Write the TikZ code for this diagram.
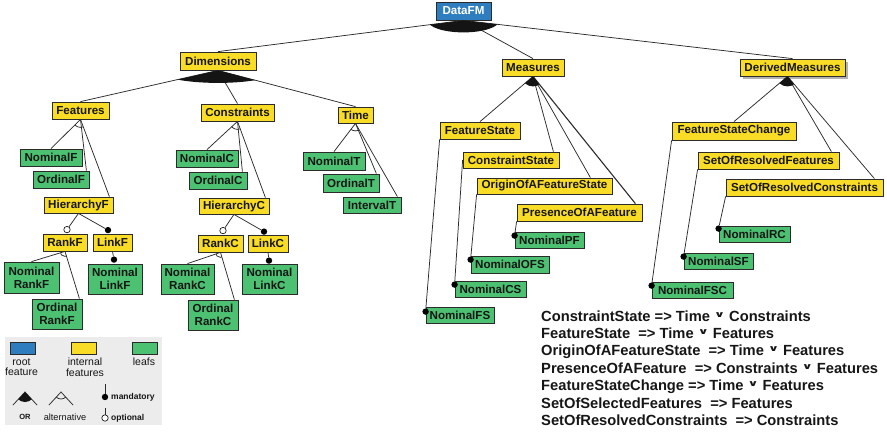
\documentclass[tikz,border=0pt]{standalone}
\usepackage{fontspec}
\setmainfont{Liberation Sans}
\newfontfamily\djv{DejaVu Sans}
\usetikzlibrary{calc,shadows}

\definecolor{rootblue}{HTML}{2E7DBE}
\definecolor{featyellow}{HTML}{F9DC26}
\definecolor{leafgreen}{HTML}{4CC172}
\definecolor{edgegray}{HTML}{2B2B2B}
\definecolor{markblack}{HTML}{141414}
\definecolor{legendbg}{HTML}{ECECEC}
\definecolor{labelink}{HTML}{161616}

% logical "or" sign used in the cross-tree rules
\newcommand{\disj}{\raisebox{4pt}{\scalebox{1}[0.62]{\djv\fontsize{13.5}{13.5}\selectfont\char"2228}}}

% filled sector of an or-group: apex, first child end, last child end, radii
\newcommand{\orfan}[5]{%
  \begin{scope}
    \clip (#1) -- ($(#1)!5!(#2)$) -- ($(#1)!5!(#3)$) -- cycle;
    \fill[markblack] (#1) ellipse [x radius=#4pt, y radius=#5pt];
  \end{scope}}
% open arc of an alternative group: apex, first child end, last child end, radius
\newcommand{\altfan}[4]{%
  \begin{scope}
    \clip (#1) -- ($(#1)!5!(#2)$) -- ($(#1)!5!(#3)$) -- cycle;
    \draw[link] (#1) circle [radius=#4pt];
  \end{scope}}

\tikzset{
  sz/.style 2 args={minimum width=#1pt, minimum height=#2pt},
  fmbox/.style={draw=edgegray, line width=0.8pt, inner sep=0pt, align=center,
    font=\bfseries\fontsize{11.6}{13}\selectfont, text=labelink,
    drop shadow={fill=black, opacity=0.3, shadow xshift=0.9pt, shadow yshift=-0.9pt}},
  rootbox/.style={fmbox, fill=rootblue, text=white},
  midbox/.style={fmbox, fill=featyellow},
  leafbox/.style={fmbox, fill=leafgreen},
  link/.style={draw=edgegray, line width=0.75pt},
  mand/.style={circle, fill=black, inner sep=0pt, minimum size=6.4pt},
  opt/.style={circle, draw=black, fill=white, line width=0.6pt, inner sep=0pt, minimum size=6.4pt},
  swatch/.style={draw=edgegray, line width=0.7pt, inner sep=0pt, minimum width=25pt, minimum height=12pt},
  keytext/.style={align=center, inner sep=0pt, font=\fontsize{10.5}{10.5}\selectfont, text=labelink},
  keybold/.style={inner sep=0pt, font=\bfseries\fontsize{8.5}{9}\selectfont, text=labelink},
  rule/.style={inner sep=0pt, anchor=base west, font=\bfseries\fontsize{14.7}{17}\selectfont, text=labelink},
}

\begin{document}
\begin{tikzpicture}[x=1pt, y=-1pt]
\useasboundingbox (0,0) rectangle (887,434);

% ---------- features ----------
\node[rootbox, sz={55}{18}] (dfm) at (463.5,11) {DataFM};
\node[midbox, sz={76}{18}] (dim) at (218,61) {Dimensions};
\node[midbox, sz={62}{17}] (meas) at (533,67.5) {Measures};
\node[midbox, sz={105}{17}, drop shadow={fill=black, opacity=0.3, shadow xshift=3pt, shadow yshift=-3pt}] (dm) at (792.5,67.5) {DerivedMeasures};

\node[midbox, sz={57}{17}] (feat) at (80.5,110.5) {Features};
\node[midbox, sz={73}{17}] (con) at (237.5,112.5) {Constraints};
\node[midbox, sz={35}{16}] (time) at (355.5,115) {Time};

\node[leafbox, sz={62}{17}] (nomF) at (51,157.5) {NominalF};
\node[leafbox, sz={56}{17}] (ordF) at (61,179.5) {OrdinalF};
\node[midbox, sz={69}{16}] (hF) at (78.5,205) {HierarchyF};
\node[midbox, sz={44}{17}] (rkF) at (65,242.5) {RankF};
\node[midbox, sz={39}{17}] (lkF) at (112.5,242.5) {LinkF};
\node[leafbox, sz={55}{31}] (nrF) at (31.5,277.5) {Nominal\\RankF};
\node[leafbox, sz={50}{30}] (orF) at (57,314) {Ordinal\\RankF};
\node[leafbox, sz={54}{30}] (nlF) at (115,279) {Nominal\\LinkF};

\node[leafbox, sz={62}{17}] (nomC) at (207,158.5) {NominalC};
\node[leafbox, sz={58}{17}] (ordC) at (218,180.5) {OrdinalC};
\node[midbox, sz={70}{16}] (hC) at (234,206) {HierarchyC};
\node[midbox, sz={45}{17}] (rkC) at (220.5,243.5) {RankC};
\node[midbox, sz={40}{17}] (lkC) at (268,243.5) {LinkC};
\node[leafbox, sz={53}{30}] (nrC) at (187.5,279) {Nominal\\RankC};
\node[leafbox, sz={50}{30}] (orC) at (213,315) {Ordinal\\RankC};
\node[leafbox, sz={55}{30}] (nlC) at (269.5,279) {Nominal\\LinkC};

\node[leafbox, sz={62}{18}] (nomT) at (334,161) {NominalT};
\node[leafbox, sz={56}{18}] (ordT) at (351,183) {OrdinalT};
\node[leafbox, sz={58}{16}] (intT) at (372,205) {IntervalT};

\node[midbox, sz={80}{17}] (fs) at (480,130.5) {FeatureState};
\node[midbox, sz={96}{16}] (cs) at (511,160) {ConstraintState};
\node[midbox, sz={135}{16}] (ofs) at (544.5,186) {OriginOfAFeatureState};
\node[midbox, sz={125}{17}] (pf) at (579.5,212.5) {PresenceOfAFeature};
\node[leafbox, sz={69}{16}] (nPF) at (549.5,240) {NominalPF};
\node[leafbox, sz={78}{17}] (nOFS) at (510,264.5) {NominalOFS};
\node[leafbox, sz={71}{16}] (nCS) at (490.5,289) {NominalCS};
\node[leafbox, sz={68}{16}] (nFS) at (460,315) {NominalFS};

\node[midbox, sz={124}{18}] (fsc) at (734,131) {FeatureStateChange};
\node[midbox, sz={141}{17}] (srf) at (768.5,160.5) {SetOfResolvedFeatures};
\node[midbox, sz={157}{17}] (src) at (804.5,187.5) {SetOfResolvedConstraints};
\node[leafbox, sz={71}{16}] (nRC) at (754.5,234) {NominalRC};
\node[leafbox, sz={69}{16}] (nSF) at (718.5,261) {NominalSF};
\node[leafbox, sz={81}{16}] (nFSC) at (692.5,290) {NominalFSC};

% ---------- attachment points ----------
\coordinate (ordF-in) at ($(ordF.north east)+(-3,0)$);
\coordinate (hF-in) at ($(hF.north east)+(-4,0)$);
\coordinate (ordC-in) at ($(ordC.north east)+(-5,0)$);
\coordinate (hC-in) at ($(hC.north east)+(-4,0)$);
\coordinate (ordT-in) at ($(ordT.north east)+(-3,0)$);
\coordinate (intT-in) at ($(intT.north east)+(-4,0)$);
\coordinate (orF-in) at ($(orF.north east)+(-3,0)$);
\coordinate (orC-in) at ($(orC.north east)+(-4,0)$);
\coordinate (cs-in) at ($(cs.north east)+(-6,0)$);
\coordinate (ofs-in) at ($(ofs.north east)+(-22,0)$);
\coordinate (pf-in) at ($(pf.north east)+(-7,0)$);
\coordinate (srf-in) at ($(srf.north east)+(-8,0)$);
\coordinate (src-in) at ($(src.north east)+(-9,0)$);
\coordinate (dm-b) at ($(dm.south)+(-5,0)$);

% ---------- optional / mandatory markers ----------
\node[opt] (oRF) at ($(rkF.north)+(2,-4)$) {};
\node[mand] (mLF) at ($(lkF.north)+(-4.5,-3.5)$) {};
\node[mand] (mNLF) at ($(nlF.north)+(-1,-4)$) {};
\node[opt] (oRC) at ($(rkC.north)+(2.5,-4)$) {};
\node[mand] (mLC) at ($(lkC.north)+(-4,-3)$) {};
\node[mand] (mNLC) at ($(nlC.north)+(-0.5,-3)$) {};

\node[mand] (mPF) at ($(nPF.north west)+(0,4)$) {};
\node[mand] (mOFS) at ($(nOFS.north west)+(0,4)$) {};
\node[mand] (mCS) at ($(nCS.north west)+(0,4)$) {};
\node[mand] (mFS) at ($(nFS.north west)+(0,5)$) {};
\node[mand] (mRC) at ($(nRC.north west)+(0,3)$) {};
\node[mand] (mSF) at ($(nSF.north west)+(0,4)$) {};
\node[mand] (mFSC) at ($(nFSC.north west)+(0,4)$) {};

% ---------- connectors ----------
\draw[link] (dfm.south) -- (dim.north);
\draw[link] (dfm.south) -- (meas.north);
\draw[link] (dfm.south) -- (dm.north);
\orfan{dfm.south}{dim.north}{dm.north}{36}{12}

\draw[link] (dim.south) -- (feat.north);
\draw[link] (dim.south) -- (con.north);
\draw[link] (dim.south) -- (time.north);
\orfan{dim.south}{feat.north}{time.north}{60}{12.5}

\draw[link] (feat.south) -- (nomF.north);
\draw[link] (feat.south) -- (ordF-in);
\draw[link] (feat.south) -- (hF-in);
\altfan{feat.south}{nomF.north}{hF-in}{8}

\draw[link] (con.south) -- (nomC.north);
\draw[link] (con.south) -- (ordC-in);
\draw[link] (con.south) -- (hC-in);
\altfan{con.south}{nomC.north}{hC-in}{8}

\draw[link] (time.south) -- (nomT.north);
\draw[link] (time.south) -- (ordT-in);
\draw[link] (time.south) -- (intT-in);
\altfan{time.south}{nomT.north}{intT-in}{7.5}

\draw[link] (hF.south) -- (oRF);
\draw[link] (hF.south) -- (mLF);
\draw[link] (lkF.south) -- (mNLF);
\draw[link] (rkF.south) -- (nrF.north);
\draw[link] (rkF.south) -- (orF-in);
\altfan{rkF.south}{nrF.north}{orF-in}{5}

\draw[link] (hC.south) -- (oRC);
\draw[link] (hC.south) -- (mLC);
\draw[link] (lkC.south) -- (mNLC);
\draw[link] (rkC.south) -- (nrC.north);
\draw[link] (rkC.south) -- (orC-in);
\altfan{rkC.south}{nrC.north}{orC-in}{5}

\draw[link] (meas.south) -- (fs.north);
\draw[link] (meas.south) -- (cs-in);
\draw[link] (meas.south) -- (ofs-in);
\draw[link, line width=1.1pt] (meas.south) -- (pf-in);
\orfan{meas.south}{fs.north}{pf-in}{11}{10}

\draw[link] (fs.south west) -- (mFS);
\draw[link] (cs.west) -- (mCS);
\draw[link] (ofs.south west) -- (mOFS);
\draw[link] (pf.south west) -- (mPF);

\draw[link] (dm-b) -- (fsc.north);
\draw[link] (dm-b) -- (srf-in);
\draw[link] (dm-b) -- (src-in);
\orfan{dm-b}{fsc.north}{src-in}{11}{10}

\draw[link] (fsc.south west) -- (mFSC);
\draw[link] (srf.south west) -- (mSF);
\draw[link] (src.south west) -- (mRC);

% ---------- legend ----------
\fill[legendbg] (5,337) rectangle (162,425);
\node[swatch, fill=rootblue] (keyRoot) at (22.5,348) {};
\node[swatch, fill=featyellow] (keyMid) at (84,348) {};
\node[swatch, fill=leafgreen] (keyLeaf) at (144.5,348) {};
\node[keytext] (keyRootT) at (21.5,367) {root\\feature};
\node[keytext] (keyMidT) at (85,367) {internal\\features};
\node[keytext] (keyLeafT) at (144,362) {leafs};

\coordinate (kOR) at (25,392);
\coordinate (kORl) at (13,405);
\coordinate (kORr) at (37,405);
\draw[link] (kORl) -- (kOR) -- (kORr);
\orfan{kOR}{kORl}{kORr}{10}{10}
\node[keybold, font=\bfseries\fontsize{7.5}{8}\selectfont] (keyORT) at (25,417) {OR};

\coordinate (kAlt) at (61,392);
\coordinate (kAltl) at (49,405);
\coordinate (kAltr) at (73,405);
\draw[link] (kAltl) -- (kAlt) -- (kAltr);
\altfan{kAlt}{kAltl}{kAltr}{7}
\node[keytext, font=\fontsize{9.2}{9.5}\selectfont] (keyAltT) at (65,417) {alternative};

\coordinate (kM) at (105,384);
\node[mand] (kMd) at (105,397) {};
\draw[link] (kM) -- (kMd);
\node[keybold, anchor=west] (keyMT) at (111,397) {mandatory};

\coordinate (kO) at (105,408);
\node[opt] (kOd) at (105,418) {};
\draw[link] (kO) -- (kOd);
\node[keybold, anchor=west] (keyOT) at (111,418) {optional};

% ---------- cross-tree rules ----------
\node[rule] (r1) at (541,321) {ConstraintState => Time \disj{} Constraints};
\node[rule] (r2) at (541,338.4) {FeatureState\ \ => Time \disj{} Features};
\node[rule] (r3) at (541,355.8) {OriginOfAFeatureState\ \ => Time \disj{} Features};
\node[rule] (r4) at (541,373.2) {PresenceOfAFeature\ \ => Constraints \disj{} Features};
\node[rule] (r5) at (541,390.6) {FeatureStateChange => Time \disj{} Features};
\node[rule] (r6) at (541,408) {SetOfSelectedFeatures\ \ => Features};
\node[rule] (r7) at (541,425.4) {SetOfResolvedConstraints\ \ => Constraints};
\end{tikzpicture}
\end{document}
